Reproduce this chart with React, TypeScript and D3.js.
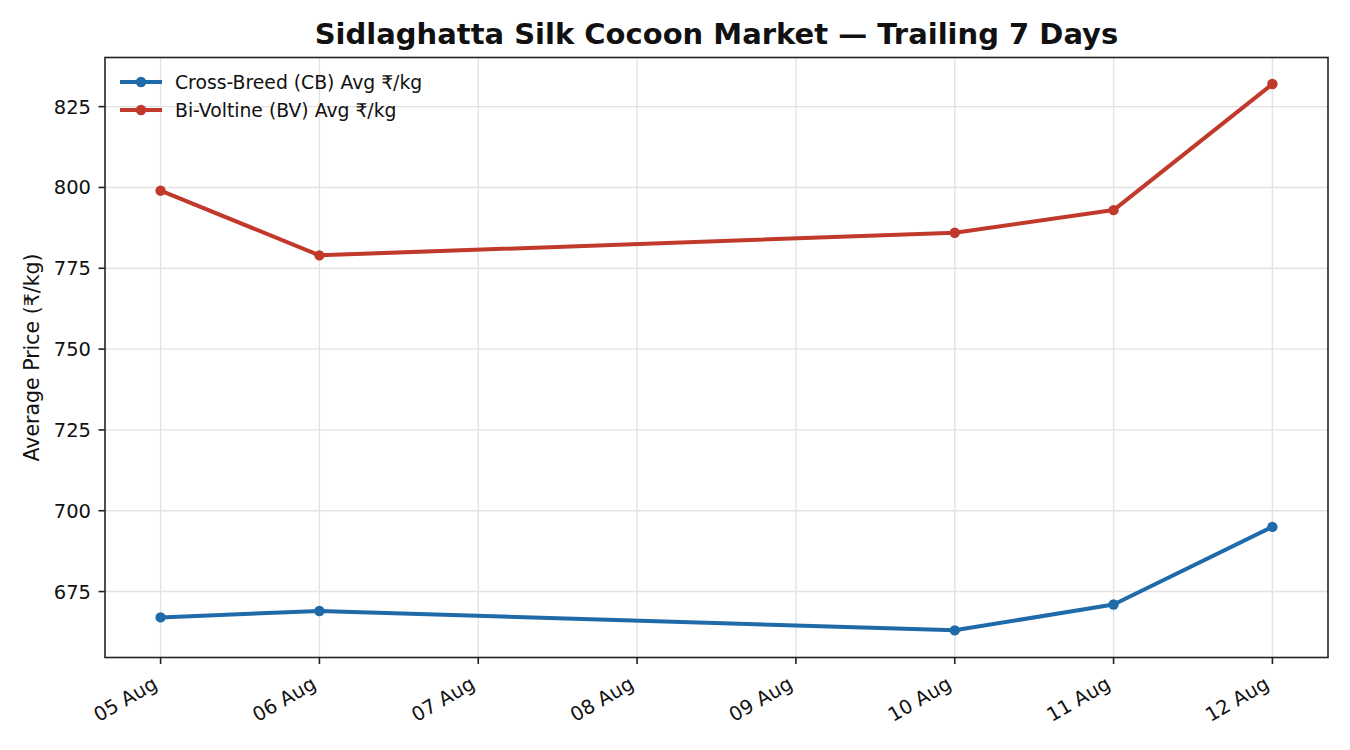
import React from "react";
import * as d3 from "d3";

const dates = ["2024-08-05", "2024-08-06", "2024-08-10", "2024-08-11", "2024-08-12"];
const cbValues = [667, 669, 663, 671, 695];
const bvValues = [799, 779, 786, 793, 832];
const yTicks = [675, 700, 725, 750, 775, 800, 825];
const seriesNames = ["Cross-Breed (CB) Avg ₹/kg", "Bi-Voltine (BV) Avg ₹/kg"];
const seriesColors = ["#1f6aa8", "#c0392b"];

const W = 1350, H = 750;
const M = { left: 105, right: 1328, top: 57.5, bottom: 657.5 };
const FONT = "DejaVu Sans, sans-serif";

const parse = (s: string) => {
  const [y, m, d] = s.split("-").map(Number);
  return new Date(y, m - 1, d);
};

export default function App() {
  const pts = dates.map(parse);
  const day = 86400000;
  const x = d3.scaleTime()
    .domain([new Date(pts[0].getTime() - 0.35 * day), new Date(pts[pts.length - 1].getTime() + 0.35 * day)])
    .range([M.left, M.right]);
  const y = d3.scaleLinear().domain([654.6, 840.2]).range([M.bottom, M.top]);
  const xTicks = d3.timeDay.range(pts[0], new Date(pts[pts.length - 1].getTime() + day / 2));
  const fmt = d3.timeFormat("%d %b");
  const line = d3.line<[Date, number]>().x(d => x(d[0])).y(d => y(d[1]));
  const series = [cbValues, bvValues];

  return (
    <svg width={W} height={H} style={{ position: "absolute", left: 0, top: 0, background: "#fff" }} fontFamily={FONT}>
      <rect x={0} y={0} width={W} height={H} fill="#fff" />
      {/* grid */}
      {xTicks.map((t, i) => (
        <line key={"gx" + i} x1={x(t)} x2={x(t)} y1={M.top} y2={M.bottom} stroke="#e3e3e3" strokeWidth={1.4} />
      ))}
      {yTicks.map((t, i) => (
        <line key={"gy" + i} x1={M.left} x2={M.right} y1={y(t)} y2={y(t)} stroke="#e3e3e3" strokeWidth={1.4} />
      ))}
      {/* series */}
      {series.map((vals, si) => {
        const data: [Date, number][] = pts.map((p, i) => [p, vals[i]]);
        return (
          <g key={"s" + si}>
            <path d={line(data) || ""} fill="none" stroke={seriesColors[si]} strokeWidth={4} strokeLinejoin="round" />
            {data.map((d, i) => (
              <circle key={i} cx={x(d[0])} cy={y(d[1])} r={5.2} fill={seriesColors[si]} />
            ))}
          </g>
        );
      })}
      {/* frame */}
      <rect x={M.left} y={M.top} width={M.right - M.left} height={M.bottom - M.top} fill="none" stroke="#222" strokeWidth={1.6} />
      {/* x ticks */}
      {xTicks.map((t, i) => (
        <g key={"xt" + i}>
          <line x1={x(t)} x2={x(t)} y1={M.bottom} y2={M.bottom + 6.5} stroke="#222" strokeWidth={1.6} />
          <text
            transform={`translate(${x(t) - 9},${M.bottom + 18}) rotate(-30)`}
            textAnchor="end"
            dy="0.72em"
            fontSize={19.5}
            fill="#111"
          >
            {fmt(t)}
          </text>
        </g>
      ))}
      {/* y ticks */}
      {yTicks.map((t, i) => (
        <g key={"yt" + i}>
          <line x1={M.left - 6.5} x2={M.left} y1={y(t)} y2={y(t)} stroke="#222" strokeWidth={1.6} />
          <text x={M.left - 14} y={y(t)} dy="0.36em" textAnchor="end" fontSize={19.5} fill="#111">
            {t}
          </text>
        </g>
      ))}
      {/* y label */}
      <text transform={`translate(39,${(M.top + M.bottom) / 2}) rotate(-90)`} textAnchor="middle" fontSize={20.5} fill="#111">
        Average Price (₹/kg)
      </text>
      {/* title */}
      <text x={(M.left + M.right) / 2} y={44} textAnchor="middle" fontSize={29} fontWeight="bold" fill="#111">
        Sidlaghatta Silk Cocoon Market — Trailing 7 Days
      </text>
      {/* legend */}
      {seriesNames.map((n, i) => (
        <g key={"lg" + i} transform={`translate(0,${82 + i * 28})`}>
          <line x1={120} x2={162} y1={0} y2={0} stroke={seriesColors[i]} strokeWidth={4} />
          <circle cx={141} cy={0} r={5.2} fill={seriesColors[i]} />
          <text x={175} y={0} dy="0.36em" fontSize={18.8} fill="#111">{n}</text>
        </g>
      ))}
    </svg>
  );
}
